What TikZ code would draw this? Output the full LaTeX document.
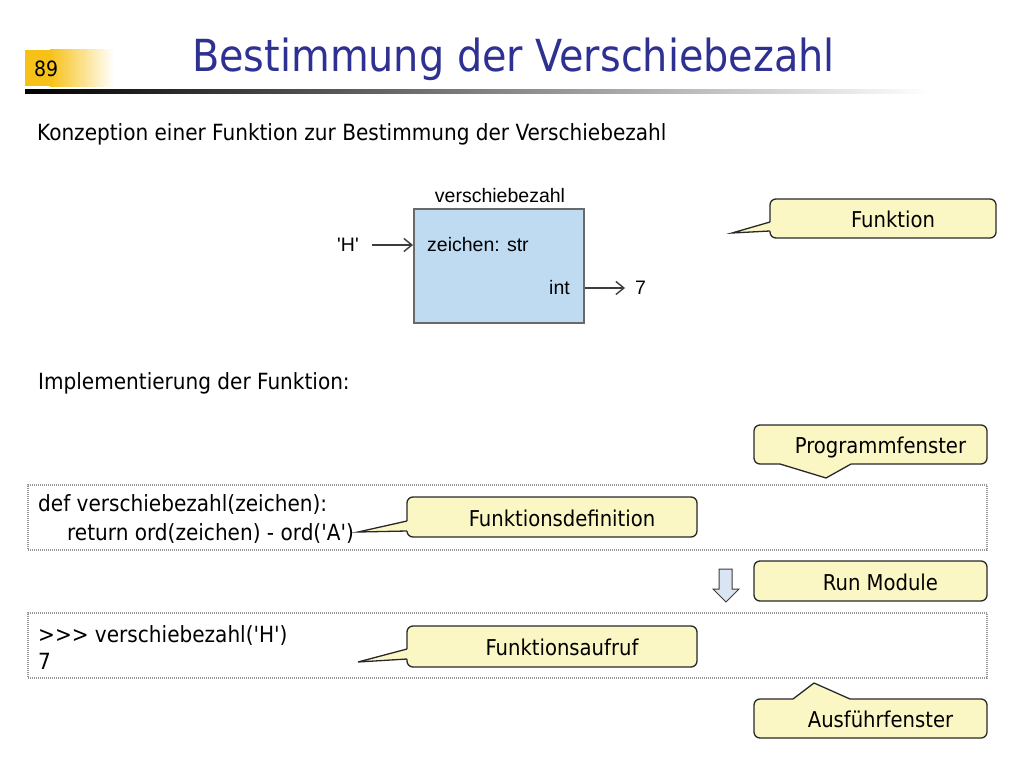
\documentclass[tikz,border=0pt]{standalone}
\usepackage{fontspec}
\setmainfont{DejaVu Sans Condensed}
\newfontfamily\arialf{Liberation Sans}
\usetikzlibrary{arrows.meta,calc}

\definecolor{titleblue}{RGB}{46,49,146}
\definecolor{callfill}{RGB}{251,247,196}
\definecolor{calledge}{RGB}{40,40,40}
\definecolor{boxblue}{RGB}{190,219,242}
\definecolor{boxedge}{RGB}{105,105,105}
\definecolor{slideyellow}{RGB}{247,194,24}
\definecolor{arrowgray}{RGB}{60,60,60}
\definecolor{arrowfill}{RGB}{218,229,243}
\definecolor{codeedge}{RGB}{150,150,150}

\tikzset{
  callbox/.style={draw=calledge, fill=callfill, line width=1.3pt, rounded corners=6pt,
    font=\fontsize{21.8}{26}\selectfont, text height=19.5pt, text depth=1.5pt,
    inner sep=0pt, outer sep=0pt},
  ptrline/.style={draw=calledge, line width=1.3pt, line join=miter},
  codebox/.style={draw=codeedge, line width=1.2pt, dash pattern=on 1pt off 1pt,
    inner sep=0pt, outer sep=0pt},
  body/.style={font=\fontsize{22.3}{26}\selectfont, inner sep=0pt, anchor=base west},
  code/.style={font=\fontsize{22.3}{26}\selectfont, inner sep=0pt, anchor=base west},
  diag/.style={font=\arialf\fontsize{19.5}{23}\selectfont, inner sep=0pt},
  arr/.style={-{Straight Barb[length=8pt,width=13pt]}, line width=1.4pt, draw=arrowgray},
}

\begin{document}
\begin{tikzpicture}[x=1pt,y=-1pt]
\useasboundingbox[fill=white] (0,0) rectangle (1024,768);

% header
\fill[slideyellow] (25,50) rectangle (50,86);
\shade[left color=slideyellow, right color=white] (50,50) rectangle (114,86);
\node[anchor=base west, inner sep=0pt, font=\fontsize{21}{24}\selectfont] (num) at (34,76) {89};
\node[anchor=base west, inner sep=0pt, text=titleblue, font=\fontsize{44.2}{50}\selectfont] (title) at (192,71) {Bestimmung der Verschiebezahl};
\shade[left color=black, right color=white] (25,89) rectangle (930,93);

\node[body] (sub) at (37,140) {Konzeption einer Funktion zur Bestimmung der Verschiebezahl};

% function diagram
\node[draw=boxedge, fill=boxblue, line width=2pt, minimum width=170pt, minimum height=114pt, inner sep=0pt] (fb) at (499,266) {};
\node[diag] (fname) at (500,196) {verschiebezahl};
\node[diag, anchor=west] (param) at (427,245) {zeichen: str};
\node[diag, anchor=west] (ret) at (549,288) {int};
\node[diag] (hin) at (348,245) {\textquotesingle H\textquotesingle};
\node[diag, anchor=west] (seven) at (635,288) {7};
\draw[arr, shorten <=13pt] (hin.east) -- (hin.east -| fb.west);
\draw[arr, shorten >=10pt] (seven.west -| fb.east) -- (seven.west);

% callout Funktion
\node[callbox, minimum width=226pt, minimum height=39pt] (cf) at (883,218.5) {\hspace*{20pt}Funktion};
\coordinate (tf) at (732,233);
\fill[callfill] ($(cf.west)+(0,3.5)$) -- (tf) -- ($(cf.west)+(0,12.5)$) -- ($(cf.west)+(3,12.5)$) -- ($(cf.west)+(3,3.5)$) -- cycle;
\draw[ptrline] ($(cf.west)+(0,3.5)$) -- (tf) -- ($(cf.west)+(0,12.5)$);

\node[body] (impl) at (38,389) {Implementierung der Funktion:};

% callout Programmfenster
\node[callbox, minimum width=233pt, minimum height=39pt] (cp) at (870.5,444.5) {\hspace*{20pt}Programmfenster};
\coordinate (tp) at (826,478);
\fill[callfill] ($(cp.south)+(-90.5,0)$) -- (tp) -- ($(cp.south)+(-19.5,0)$) -- ($(cp.south)+(-19.5,-3)$) -- ($(cp.south)+(-90.5,-3)$) -- cycle;
\draw[ptrline] ($(cp.south)+(-90.5,0)$) -- (tp) -- ($(cp.south)+(-19.5,0)$);

% code box 1
\node[codebox, minimum width=959pt, minimum height=65pt] (code1) at (507.5,517.5) {};
\node[code] (l1) at (38,511) {def verschiebezahl(zeichen):};
\node[code] (l2) at (67,540) {return ord(zeichen) - ord(\textquotesingle A\textquotesingle)};

% callout Funktionsdefinition
\node[callbox, minimum width=290pt, minimum height=40pt] (cd) at (552,517) {\hspace*{20pt}Funktionsdefinition};
\coordinate (td) at (358,532);
\fill[callfill] ($(cd.west)+(0,4)$) -- (td) -- ($(cd.west)+(0,14)$) -- ($(cd.west)+(3,14)$) -- ($(cd.west)+(3,4)$) -- cycle;
\draw[ptrline] ($(cd.west)+(0,4)$) -- (td) -- ($(cd.west)+(0,14)$);

% run module
\draw[fill=arrowfill, draw=arrowgray, line width=1pt] (719,569) -- (732,569) -- (732,589) -- (739,589) -- (726,602) -- (713,589) -- (719,589) -- cycle;
\node[callbox, minimum width=233pt, minimum height=40pt] (cr) at (870.5,581) {\hspace*{20pt}Run Module};

% code box 2
\node[codebox, minimum width=959pt, minimum height=65pt] (code2) at (507.5,645.5) {};
\node[code] (l3) at (38,642) {>\kern0pt>\kern0pt> verschiebezahl(\textquotesingle H\textquotesingle)};
\node[code] (l4) at (38,669) {7};

% callout Funktionsaufruf
\node[callbox, minimum width=290pt, minimum height=41pt] (ca) at (552,646.5) {\hspace*{20pt}Funktionsaufruf};
\coordinate (ta) at (358,662);
\fill[callfill] ($(ca.west)+(0,2.5)$) -- (ta) -- ($(ca.west)+(0,12.5)$) -- ($(ca.west)+(3,12.5)$) -- ($(ca.west)+(3,2.5)$) -- cycle;
\draw[ptrline] ($(ca.west)+(0,2.5)$) -- (ta) -- ($(ca.west)+(0,12.5)$);

% callout Ausfuehrfenster
\node[callbox, minimum width=233pt, minimum height=39pt] (ce) at (870.5,718.5) {\hspace*{20pt}Ausführfenster};
\coordinate (te) at (814,683);
\fill[callfill] ($(ce.north)+(-77.5,0)$) -- (te) -- ($(ce.north)+(-20.5,0)$) -- ($(ce.north)+(-20.5,3)$) -- ($(ce.north)+(-77.5,3)$) -- cycle;
\draw[ptrline] ($(ce.north)+(-77.5,0)$) -- (te) -- ($(ce.north)+(-20.5,0)$);
\end{tikzpicture}
\end{document}
